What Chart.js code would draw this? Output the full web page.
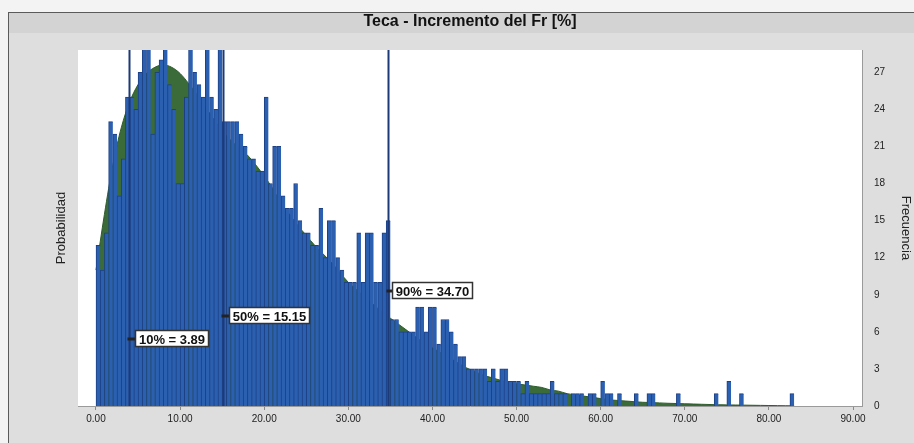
<!DOCTYPE html>
<html>
<head>
<meta charset="utf-8">
<script src="https://cdn.jsdelivr.net/npm/chart.js@4.4.1/dist/chart.umd.min.js"></script>
<style>
  html, body { margin: 0; padding: 0; background: #f2f2f2; }
  #wrap { width: 914px; height: 443px; position: relative; }
</style>
</head>
<body>
<div id="wrap"><canvas id="c" width="914" height="443"></canvas></div>
<script>
// Forecast: Teca - increment of Fr [%]
const chartTitle = 'Teca - Incremento del Fr [%]';
const leftAxisTitle = 'Probabilidad';
const rightAxisTitle = 'Frecuencia';

// Histogram bins (width 0.5, starting at 0) and their frequencies
const binStart = 0;
const binWidth = 0.5;
const binCounts = [
  13, 11, 14, 23, 22, 17, 20, 25, 25, 24,
  27, 31, 30, 22, 27, 28, 31, 26, 24, 18,
  18, 25, 31, 27, 26, 25, 31, 25, 24, 30,
  23, 23, 23, 23, 22, 21, 20, 20, 19, 19,
  25, 18, 21, 21, 17, 16, 16, 18, 15, 14,
  14, 13, 13, 16, 12, 15, 15, 12, 11, 10,
  10, 10, 14, 10, 14, 14, 10, 10, 14, 15,
  7, 7, 6, 6, 6, 6, 8, 8, 6, 8,
  8, 5, 7, 7, 6, 5, 4, 4, 3, 3,
  3, 3, 3, 2, 3, 2, 3, 3, 2, 2,
  2, 1, 2, 1, 1, 1, 1, 1, 2, 1,
  1, 1, 0, 1, 1, 1, 0, 1, 1, 0,
  2, 1, 1, 0, 1, 0, 0, 0, 1, 0,
  0, 1, 1, 0, 0, 0, 0, 0, 1, 0,
  0, 0, 0, 0, 0, 0, 0, 1, 0, 0,
  2, 0, 0, 1, 0, 0, 0, 0, 0, 0,
  0, 0, 0, 0, 0, 1
];

// Fitted distribution curve (frequency scale)
const curveX = [
  0, 1, 2, 3, 4, 5, 6, 7, 8, 9, 10, 11, 12, 13, 14, 15, 16, 17, 18, 19,
  20, 21, 22, 23, 24, 25, 26, 27, 28, 29, 30, 31, 32, 33, 34, 35, 36, 37, 38, 39,
  40, 41, 42, 43, 44, 45, 46, 47, 48, 49, 50, 51, 52, 53, 54, 55, 56, 57, 58, 59,
  60, 61, 62, 63, 64, 65, 66, 67, 68, 69, 70, 71, 72, 73, 74, 75, 76, 77, 78, 79,
  80, 81, 82, 83
];
const curveY = [
  11, 15.5, 19.5, 22.5, 24.6, 26.0, 26.9, 27.4, 27.6, 27.4,
  26.9, 26.1, 25.2, 24.2, 23.2, 22.3, 21.5, 20.9, 20.3, 19.5,
  18.6, 17.6, 16.4, 15.5, 14.6, 13.8, 13.0, 12.3, 11.6, 10.8,
  10.0, 9.4, 8.8, 8.2, 7.6, 7.1, 6.6, 6.1, 5.6, 5.1,
  4.7, 4.3, 3.9, 3.5, 3.1, 2.8, 2.5, 2.3, 2.1, 1.9,
  1.8, 1.7, 1.6, 1.5, 1.3, 1.2, 1.0, 0.9, 0.8, 0.7,
  0.6, 0.5, 0.45, 0.4, 0.35, 0.3, 0.28, 0.25, 0.22, 0.2,
  0.18, 0.16, 0.14, 0.12, 0.1, 0.09, 0.08, 0.07, 0.06, 0.05,
  0.04, 0.03, 0.02, 0.01
];

// Percentile markers
const percentileLevels = [10, 50, 90];
const percentileValues = [3.89, 15.15, 34.70];

// Axis ticks
const xTicks = [0, 10, 20, 30, 40, 50, 60, 70, 80, 90];
const yTicks = [0, 3, 6, 9, 12, 15, 18, 21, 24, 27];

// Marker label placement: horizontal offset in px from the marker line, height in frequency units
const markerLabelLayout = [
  { dx: 5, height: 5.4 },
  { dx: 5, height: 7.3 },
  { dx: 3, height: 9.3 }
];

const FONT = '"Liberation Sans", Arial, sans-serif';

const histData = binCounts.map((c, i) => ({ x: binStart + binWidth * (i + 0.5), y: c }));
const curveData = curveX.map((x, i) => ({ x: x, y: curveY[i] }));

const backgroundPlugin = {
  id: 'panelBackground',
  beforeDraw(chart) {
    const { ctx, chartArea: a, width, height } = chart;
    ctx.save();
    ctx.fillStyle = '#f3f3f3';
    ctx.fillRect(0, 0, width, height);
    ctx.fillStyle = '#dedede';
    ctx.fillRect(8, 12, width - 8, height - 12);
    ctx.fillStyle = '#d3d3d3';
    ctx.fillRect(9, 13, width - 9, 20);
    ctx.strokeStyle = '#5a5a5a';
    ctx.lineWidth = 1;
    ctx.beginPath();
    ctx.moveTo(8, 12.5); ctx.lineTo(width, 12.5);
    ctx.moveTo(8.5, 12); ctx.lineTo(8.5, height);
    ctx.stroke();
    ctx.fillStyle = '#ffffff';
    ctx.fillRect(a.left, a.top, a.right - a.left, a.bottom - a.top);
    ctx.restore();
  },
  afterDraw(chart) {
    const { ctx, chartArea: a } = chart;
    ctx.save();
    ctx.font = 'bold 16px ' + FONT;
    ctx.fillStyle = '#111';
    ctx.textAlign = 'center';
    ctx.textBaseline = 'middle';
    ctx.fillText(chartTitle, (a.left + a.right) / 2, 22);
    ctx.restore();
  }
};

const percentilePlugin = {
  id: 'percentileMarkers',
  afterDatasetsDraw(chart) {
    const { ctx, chartArea: a, scales } = chart;
    const xs = scales.x, ys = scales.y;
    ctx.save();
    ctx.beginPath();
    ctx.rect(a.left, a.top, a.right - a.left, a.bottom - a.top);
    ctx.clip();
    percentileValues.forEach((v, i) => {
      const px = Math.round(xs.getPixelForValue(v)) + 0.5;
      ctx.strokeStyle = '#1c3a78';
      ctx.lineWidth = 2;
      ctx.beginPath();
      ctx.moveTo(px, a.bottom);
      ctx.lineTo(px, a.top);
      ctx.stroke();

      const text = percentileLevels[i] + '% = ' + v.toFixed(2);
      ctx.font = 'bold 13px ' + FONT;
      const tw = ctx.measureText(text).width;
      const layout = markerLabelLayout[i];
      const cy = Math.round(ys.getPixelForValue(layout.height));
      const bx = Math.round(px + layout.dx);
      const bw = Math.round(tw + 8), bh = 17;
      const by = cy - Math.round(bh / 2);
      // connector from marker line to label box
      ctx.strokeStyle = '#222';
      ctx.lineWidth = 3;
      ctx.beginPath();
      ctx.moveTo(px - 2, cy);
      ctx.lineTo(bx, cy);
      ctx.stroke();
      ctx.fillStyle = '#ffffff';
      ctx.fillRect(bx, by, bw, bh);
      ctx.strokeStyle = '#333';
      ctx.lineWidth = 1.5;
      ctx.strokeRect(bx + 0.5, by + 0.5, bw - 1, bh - 1);
      ctx.fillStyle = '#111';
      ctx.textAlign = 'center';
      ctx.textBaseline = 'middle';
      ctx.fillText(text, bx + bw / 2, cy + 1);
    });
    ctx.restore();
  }
};

new Chart(document.getElementById('c'), {
  type: 'bar',
  data: {
    datasets: [
      {
        type: 'bar',
        label: 'Frecuencia',
        data: histData,
        xAxisID: 'x',
        yAxisID: 'y',
        backgroundColor: '#2b5fb0',
        borderColor: '#1d4186',
        borderWidth: { top: 1, left: 1, right: 0, bottom: 0 },
        borderSkipped: 'start',
        barPercentage: 1.0,
        categoryPercentage: 1.0,
        order: 1
      },
      {
        type: 'line',
        label: 'Ajuste',
        data: curveData,
        xAxisID: 'x',
        yAxisID: 'y',
        borderColor: '#2e5c2e',
        borderWidth: 1,
        backgroundColor: '#3a6b38',
        fill: 'origin',
        pointRadius: 0,
        cubicInterpolationMode: 'monotone',
        order: 2
      }
    ]
  },
  options: {
    responsive: false,
    animation: false,
    devicePixelRatio: 1,
    layout: { padding: { top: 50, left: 0, right: 0, bottom: 0 } },
    plugins: {
      legend: { display: false },
      tooltip: { enabled: false },
      title: { display: false }
    },
    scales: {
      x: {
        type: 'linear',
        position: 'bottom',
        min: -2.14,
        max: 91.07,
        offset: false,
        afterBuildTicks: (s) => { s.ticks = xTicks.map(v => ({ value: v })); },
        afterFit: (s) => { s.height = 37; },
        ticks: {
          callback: (v) => Number(v).toFixed(2),
          font: { family: FONT, size: 10 },
          color: '#222',
          padding: 3,
          maxRotation: 0,
          autoSkip: false
        },
        grid: { offset: false, drawOnChartArea: false, drawTicks: true, tickLength: 4, color: '#8a8a8a' },
        border: { display: true, color: '#9a9a9a' }
      },
      y: {
        type: 'linear',
        position: 'right',
        min: 0,
        max: 28.8,
        afterBuildTicks: (s) => { s.ticks = yTicks.map(v => ({ value: v })); },
        afterFit: (s) => { s.width = 52; },
        ticks: { font: { family: FONT, size: 10 }, color: '#222', padding: 4, crossAlign: 'near' },
        grid: { display: false },
        border: { display: true, color: '#9a9a9a' },
        title: {
          display: true,
          text: rightAxisTitle,
          font: { family: FONT, size: 13 },
          color: '#222',
          padding: { top: 1, bottom: 0 }
        }
      },
      yLeft: {
        type: 'linear',
        position: 'left',
        min: 0,
        max: 1,
        afterFit: (s) => { s.width = 78; },
        ticks: { display: false },
        grid: { display: false },
        border: { display: false },
        title: {
          display: true,
          text: leftAxisTitle,
          font: { family: FONT, size: 13 },
          color: '#222',
          padding: { top: 54, bottom: 0 }
        }
      }
    }
  },
  plugins: [backgroundPlugin, percentilePlugin]
});
</script>
</body>
</html>
